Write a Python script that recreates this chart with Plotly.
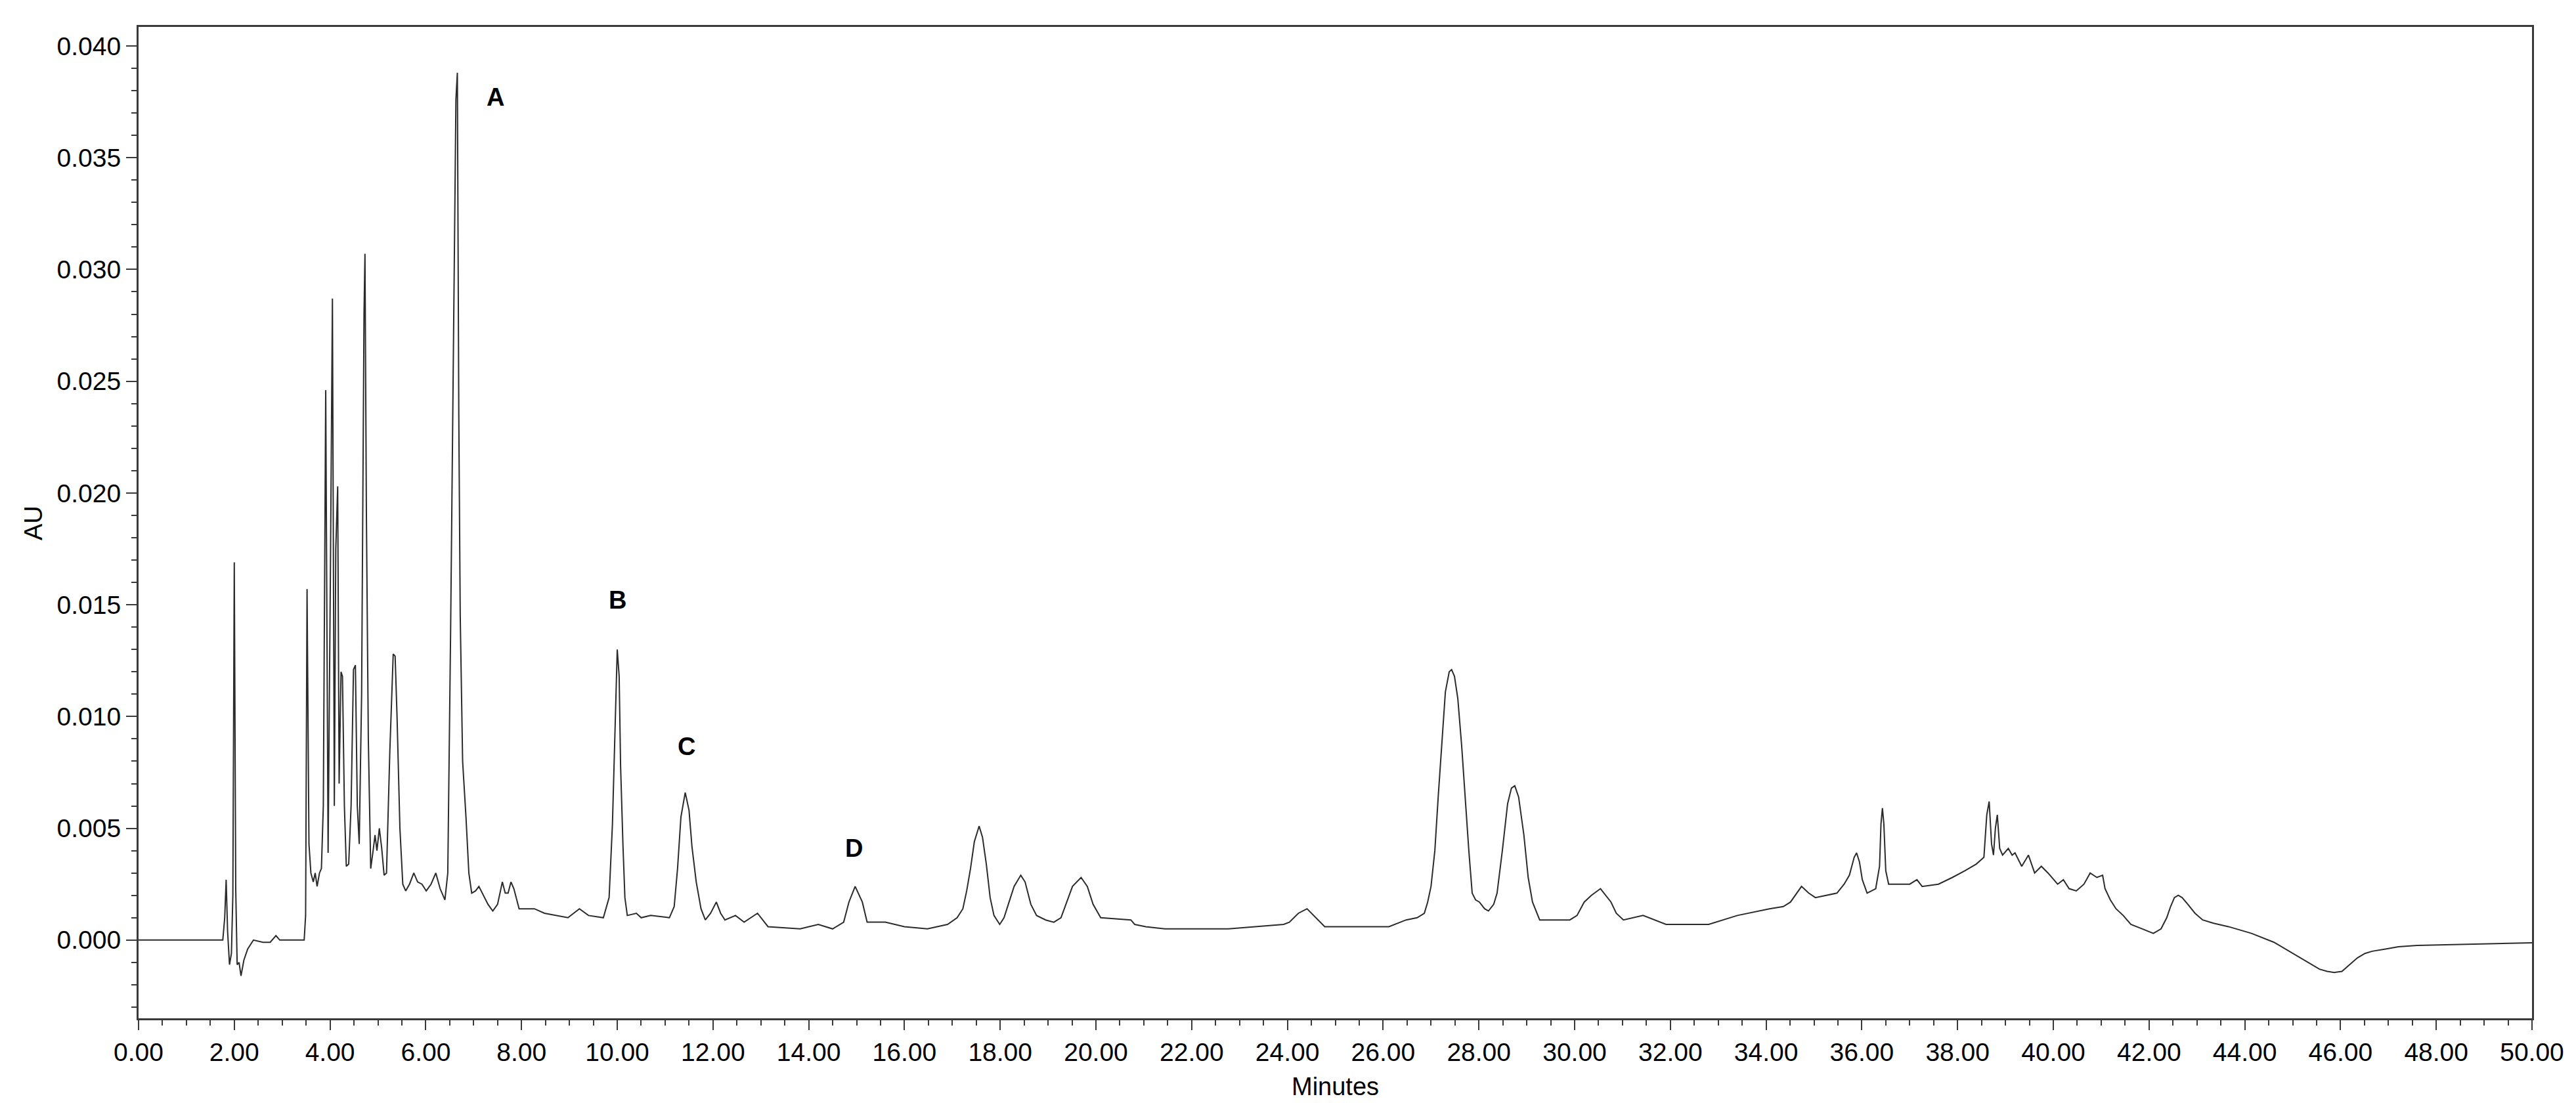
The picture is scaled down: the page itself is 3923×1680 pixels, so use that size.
import plotly.graph_objects as go

# Chromatogram trace (time in minutes, absorbance in AU)
time_min = [
    0.00, 0.50, 1.00, 1.50, 1.76, 1.80, 1.83, 1.86, 1.90, 1.94,
    1.97, 2.00, 2.03, 2.06, 2.10, 2.14, 2.20, 2.28, 2.40, 2.60,
    2.75, 2.87, 2.95, 3.20, 3.46, 3.49, 3.52, 3.56, 3.60, 3.65,
    3.69, 3.73, 3.78, 3.82, 3.86, 3.91, 3.96, 4.01, 4.05, 4.09,
    4.12, 4.16, 4.19, 4.23, 4.26, 4.30, 4.34, 4.39, 4.44, 4.49,
    4.53, 4.57, 4.61, 4.66, 4.71, 4.73, 4.76, 4.80, 4.85, 4.90,
    4.94, 4.98, 5.03, 5.08, 5.13, 5.18, 5.25, 5.32, 5.36, 5.40,
    5.46, 5.52, 5.58, 5.66, 5.75, 5.83, 5.92, 6.01, 6.11, 6.21,
    6.30, 6.40, 6.46, 6.52, 6.58, 6.63, 6.66, 6.69, 6.72, 6.77,
    6.84, 6.90, 6.96, 7.04, 7.11, 7.20, 7.30, 7.40, 7.50, 7.60,
    7.66, 7.72, 7.78, 7.84, 7.95, 8.10, 8.27, 8.48, 8.70, 8.97,
    9.21, 9.40, 9.71, 9.83, 9.90, 9.93, 9.97, 10.00, 10.04, 10.07,
    10.12, 10.16, 10.21, 10.40, 10.50, 10.70, 11.09, 11.19, 11.26, 11.33,
    11.42, 11.50, 11.56, 11.65, 11.75, 11.84, 11.95, 12.07, 12.16, 12.25,
    12.47, 12.65, 12.93, 13.15, 13.82, 14.20, 14.50, 14.73, 14.84, 14.97,
    15.12, 15.22, 15.60, 16.00, 16.48, 16.90, 17.10, 17.22, 17.30, 17.38,
    17.46, 17.56, 17.63, 17.71, 17.79, 17.87, 17.99, 18.08, 18.17, 18.29,
    18.43, 18.52, 18.64, 18.76, 18.95, 19.12, 19.27, 19.39, 19.51, 19.69,
    19.82, 19.94, 20.10, 20.73, 20.81, 21.04, 21.44, 22.77, 23.92, 24.04,
    24.23, 24.41, 24.59, 24.78, 24.94, 26.12, 26.48, 26.71, 26.86, 26.93,
    27.00, 27.08, 27.15, 27.23, 27.30, 27.38, 27.43, 27.49, 27.56, 27.64,
    27.71, 27.79, 27.86, 27.93, 28.01, 28.12, 28.20, 28.31, 28.38, 28.49,
    28.60, 28.68, 28.75, 28.83, 28.94, 29.03, 29.12, 29.27, 29.90, 30.05,
    30.20, 30.35, 30.54, 30.65, 30.76, 30.87, 31.02, 31.43, 31.91, 32.80,
    33.40, 34.07, 34.36, 34.51, 34.74, 34.89, 35.03, 35.48, 35.63, 35.74,
    35.84, 35.89, 35.95, 36.01, 36.11, 36.29, 36.37, 36.40, 36.43, 36.46,
    36.50, 36.56, 37.00, 37.15, 37.26, 37.60, 37.89, 38.15, 38.39, 38.55,
    38.61, 38.66, 38.71, 38.75, 38.79, 38.83, 38.88, 38.94, 39.06, 39.14,
    39.20, 39.34, 39.48, 39.61, 39.75, 39.89, 40.09, 40.21, 40.33, 40.48,
    40.64, 40.77, 40.91, 41.03, 41.08, 41.19, 41.31, 41.46, 41.62, 41.86,
    42.09, 42.25, 42.37, 42.45, 42.53, 42.61, 42.69, 42.81, 42.96, 43.12,
    43.35, 43.66, 44.14, 44.61, 45.09, 45.56, 45.72, 45.87, 46.03, 46.19,
    46.35, 46.51, 46.66, 46.94, 47.21, 47.60, 48.31, 49.18, 50.00,
]
absorbance_au = [
    0.0000, 0.0000, 0.0000, 0.0000, 0.0000, 0.0010, 0.0027, 0.0004, -0.0011, -0.0006,
    0.0020, 0.0169, 0.0023, -0.0011, -0.0010, -0.0016, -0.0009, -0.0004, 0.0000, -0.0001,
    -0.0001, 0.0002, 0.0000, 0.0000, 0.0000, 0.0011, 0.0157, 0.0043, 0.0030, 0.0026,
    0.0030, 0.0024, 0.0030, 0.0032, 0.0060, 0.0246, 0.0039, 0.0170, 0.0287, 0.0060,
    0.0175, 0.0203, 0.0070, 0.0120, 0.0118, 0.0060, 0.0033, 0.0034, 0.0060, 0.0121,
    0.0123, 0.0060, 0.0043, 0.0110, 0.0280, 0.0307, 0.0190, 0.0090, 0.0032, 0.0040,
    0.0047, 0.0040, 0.0050, 0.0041, 0.0029, 0.0030, 0.0085, 0.0128, 0.0127, 0.0100,
    0.0050, 0.0025, 0.0022, 0.0025, 0.0030, 0.0026, 0.0025, 0.0022, 0.0025, 0.0030,
    0.0023, 0.0018, 0.0030, 0.0140, 0.0276, 0.0376, 0.0388, 0.0235, 0.0145, 0.0080,
    0.0055, 0.0030, 0.0021, 0.0022, 0.0024, 0.0020, 0.0016, 0.0013, 0.0016, 0.0026,
    0.0021, 0.0021, 0.0026, 0.0023, 0.0014, 0.0014, 0.0014, 0.0012, 0.0011, 0.0010,
    0.0014, 0.0011, 0.0010, 0.0019, 0.0052, 0.0078, 0.0110, 0.0130, 0.0118, 0.0078,
    0.0042, 0.0019, 0.0011, 0.0012, 0.0010, 0.0011, 0.0010, 0.0015, 0.0032, 0.0055,
    0.0066, 0.0058, 0.0042, 0.0026, 0.0014, 0.0009, 0.0012, 0.0017, 0.0012, 0.0009,
    0.0011, 0.0008, 0.0012, 0.0006, 0.0005, 0.0007, 0.0005, 0.0008, 0.0017, 0.0024,
    0.0017, 0.0008, 0.0008, 0.0006, 0.0005, 0.0007, 0.0010, 0.0014, 0.0022, 0.0032,
    0.0044, 0.0051, 0.0046, 0.0034, 0.0019, 0.0011, 0.0007, 0.0010, 0.0016, 0.0024,
    0.0029, 0.0026, 0.0016, 0.0011, 0.0009, 0.0008, 0.0010, 0.0017, 0.0024, 0.0028,
    0.0024, 0.0016, 0.0010, 0.0009, 0.0007, 0.0006, 0.0005, 0.0005, 0.0007, 0.0008,
    0.0012, 0.0014, 0.0010, 0.0006, 0.0006, 0.0006, 0.0009, 0.0010, 0.0012, 0.0017,
    0.0024, 0.0040, 0.0064, 0.0090, 0.0111, 0.0120, 0.0121, 0.0118, 0.0108, 0.0087,
    0.0064, 0.0040, 0.0021, 0.0018, 0.0017, 0.0014, 0.0013, 0.0016, 0.0021, 0.0040,
    0.0061, 0.0068, 0.0069, 0.0064, 0.0047, 0.0028, 0.0017, 0.0009, 0.0009, 0.0011,
    0.0017, 0.0020, 0.0023, 0.0020, 0.0017, 0.0012, 0.0009, 0.0011, 0.0007, 0.0007,
    0.0011, 0.0014, 0.0015, 0.0017, 0.0024, 0.0021, 0.0019, 0.0021, 0.0025, 0.0029,
    0.0037, 0.0039, 0.0035, 0.0027, 0.0021, 0.0023, 0.0033, 0.0052, 0.0059, 0.0052,
    0.0031, 0.0025, 0.0025, 0.0027, 0.0024, 0.0025, 0.0028, 0.0031, 0.0034, 0.0037,
    0.0056, 0.0062, 0.0043, 0.0038, 0.0050, 0.0056, 0.0041, 0.0038, 0.0041, 0.0038,
    0.0039, 0.0033, 0.0038, 0.0030, 0.0033, 0.0030, 0.0025, 0.0027, 0.0023, 0.0022,
    0.0025, 0.0030, 0.0028, 0.0029, 0.0023, 0.0018, 0.0014, 0.0011, 0.0007, 0.0005,
    0.0003, 0.0005, 0.0010, 0.0015, 0.0019, 0.0020, 0.0019, 0.0016, 0.0012, 0.0009,
    0.00075, 0.0006, 0.0003, -0.0001, -0.0007, -0.0013, -0.0014, -0.00145, -0.0014, -0.0011,
    -0.0008, -0.0006, -0.0005, -0.0004, -0.0003, -0.00024, -0.0002, -0.00015, -0.00012,
]

# Peak labels
label_text = ["A", "B", "C", "D"]
label_time = [7.46, 10.01, 11.45, 14.95]
label_au = [0.0377, 0.0152, 0.00865, 0.0041]

# Axis ticks
x_tick_values = [v * 2 for v in range(26)]
x_tick_labels = [f"{v:.2f}" for v in x_tick_values]
y_tick_values = [0.000, 0.005, 0.010, 0.015, 0.020, 0.025, 0.030, 0.035, 0.040]
y_tick_labels = [f"{v:.3f}" for v in y_tick_values]

FONT = "Liberation Sans, Arial, sans-serif"
AXIS_COLOR = "#3a3a3a"

fig = go.Figure()
fig.add_trace(go.Scatter(
    x=time_min, y=absorbance_au, mode="lines",
    line=dict(color="#2b2b2b", width=2),
    showlegend=False, hoverinfo="skip",
))

for txt, tx, ty in zip(label_text, label_time, label_au):
    fig.add_annotation(x=tx, y=ty, text=f"<b>{txt}</b>", showarrow=False,
                       font=dict(family=FONT, size=38, color="black"),
                       xanchor="center", yanchor="middle")

fig.add_annotation(xref="paper", yref="paper", x=0.5, y=-0.0689, text="Minutes",
                   showarrow=False, font=dict(family=FONT, size=38, color="black"),
                   xanchor="center", yanchor="middle")
fig.add_annotation(xref="paper", yref="paper", x=-0.0439, y=0.5, text="AU", textangle=-90,
                   showarrow=False, font=dict(family=FONT, size=38, color="black"),
                   xanchor="center", yanchor="middle")

fig.update_layout(
    width=3923, height=1680,
    margin=dict(l=203, r=75, t=33, b=137),
    paper_bgcolor="white", plot_bgcolor="white",
    font=dict(family=FONT, size=39, color="black"),
)
fig.update_xaxes(
    range=[0, 50], tickmode="array", tickvals=x_tick_values, ticktext=x_tick_labels,
    ticks="outside", ticklen=15, tickwidth=2, tickcolor=AXIS_COLOR,
    minor=dict(dtick=0.5, tick0=0, ticks="outside", ticklen=8, tickwidth=2, tickcolor=AXIS_COLOR),
    showline=True, linewidth=3, linecolor=AXIS_COLOR, mirror=True,
    showgrid=False, zeroline=False, tickfont=dict(family=FONT, size=39, color="black"),
)
fig.update_yaxes(
    range=[-0.0035, 0.04085], tickmode="array", tickvals=y_tick_values, ticktext=y_tick_labels,
    ticks="outside", ticklen=16, tickwidth=2, tickcolor=AXIS_COLOR,
    minor=dict(dtick=0.001, tick0=0, ticks="outside", ticklen=8, tickwidth=2, tickcolor=AXIS_COLOR),
    showline=True, linewidth=3, linecolor=AXIS_COLOR, mirror=True,
    showgrid=False, zeroline=False, tickfont=dict(family=FONT, size=39, color="black"),
)

fig.write_html("out.html")
